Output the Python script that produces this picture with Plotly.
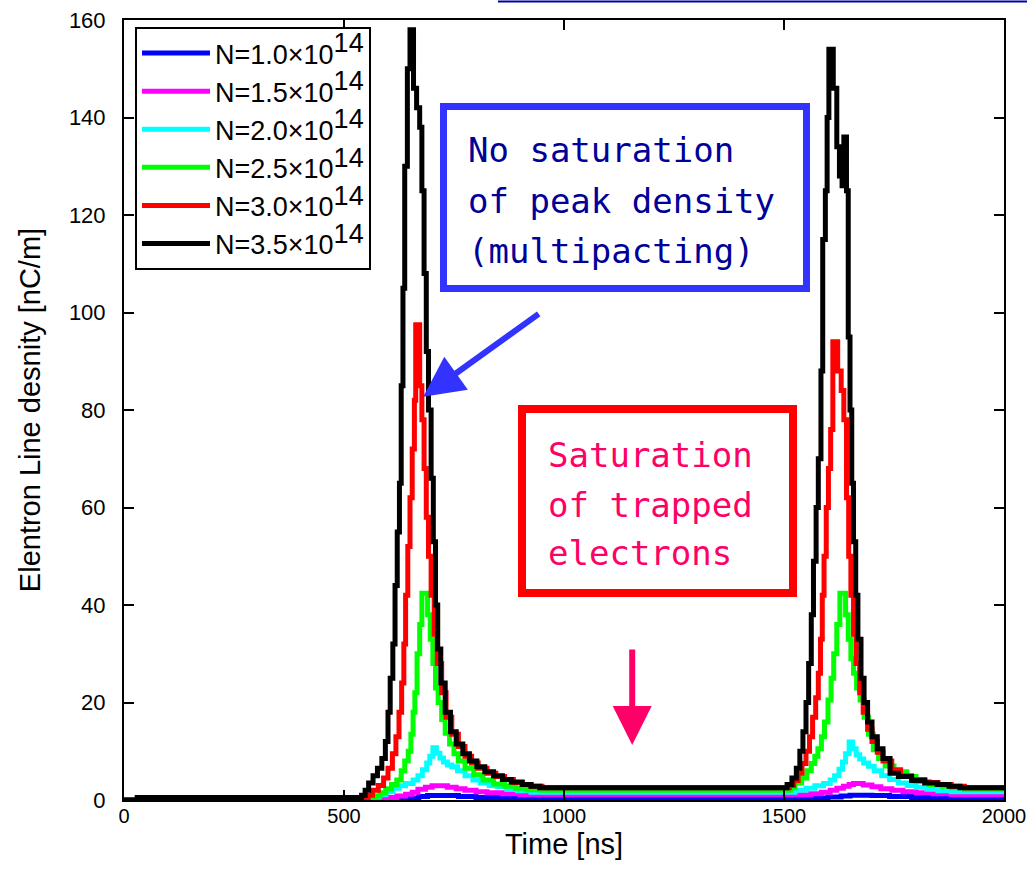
import plotly.graph_objects as go

# ---------------- data ----------------
t_n10 = [0, 600, 640, 670, 690, 760, 800, 850, 900, 1550, 1600, 1630, 1650, 1700, 1740, 1790, 1850, 1900, 2000]
v_n10 = [0, 0.2, 0.4, 0.7, 0.9, 0.7, 0.5, 0.4, 0.3, 0.4, 0.6, 0.8, 1.0, 0.9, 0.7, 0.5, 0.4, 0.3, 0.3]

t_n15 = [0, 575, 600, 620, 640, 655, 668, 685, 700, 735, 755, 775, 800, 825, 860, 900,
         1530, 1560, 1585, 1605, 1620, 1635, 1648, 1658, 1680, 1700, 1720, 1745, 1770, 1800, 1840, 1880, 2000]
v_n15 = [0, 0.2, 0.5, 0.8, 1.2, 1.6, 2.2, 2.6, 2.9, 2.6, 2.3, 2.0, 1.7, 1.5, 1.3, 1.1,
         1.1, 1.3, 1.6, 2.0, 2.4, 2.8, 3.2, 3.4, 3.1, 2.7, 2.3, 2.0, 1.7, 1.5, 1.3, 1.1, 1.1]

t_n20 = [0, 548, 565, 580, 595, 611, 625, 640, 657, 668, 678, 688, 695, 702, 710, 718, 726, 735, 745, 758, 775,
         793, 810, 830, 848, 870, 895, 925,
         1500, 1525, 1550, 1570, 1590, 1605, 1615, 1625, 1633, 1640, 1648, 1656, 1664, 1672, 1681, 1692, 1705,
         1722, 1740, 1760, 1780, 1800, 1825, 1850, 1880, 2000]
v_n20 = [0, 0.2, 0.6, 1.1, 1.7, 2.4, 2.9, 3.4, 4.1, 5.0, 6.2, 7.6, 9.0, 10.7, 9.6, 8.6, 7.8, 7.2, 6.8, 6.0, 5.0,
         4.1, 3.5, 3.0, 2.7, 2.2, 1.9, 1.6,
         1.6, 2.0, 2.4, 2.9, 3.4, 4.1, 5.0, 6.3, 7.8, 9.5, 11.9, 10.5, 9.3, 8.4, 7.6, 6.9, 6.0,
         5.0, 4.2, 3.5, 3.0, 2.6, 2.2, 1.9, 1.7, 1.6]

t_n25 = [0, 555, 570, 582, 595, 608, 620, 630, 638, 646, 652, 657, 661, 666, 672, 677, 690, 696, 702, 708, 714,
         722, 730, 740, 750, 760, 775, 795, 816, 840, 865, 890, 916, 950,
         1505, 1515, 1525, 1540, 1552, 1562, 1570, 1577, 1585, 1592, 1600, 1607, 1613, 1620, 1627, 1640, 1646,
         1652, 1658, 1665, 1673, 1682, 1692, 1703, 1715, 1730, 1750, 1779, 1800, 1830, 1860, 1880, 1910, 2000]
v_n25 = [0, 0.2, 0.8, 1.5, 2.3, 3.2, 4.1, 6.0, 8.0, 10.0, 13.5, 18.0, 22.0, 30.0, 36.0, 42.4, 38.0, 33.0, 28.0, 23.0, 20.0,
         16.5, 13.7, 11.5, 9.5, 8.0, 6.5, 5.2, 4.1, 3.3, 2.8, 2.4, 2.1, 2.0,
         2.0, 2.5, 3.5, 4.5, 6.0, 7.5, 9.0, 10.5, 13.0, 16.0, 20.5, 25.0, 30.0, 36.0, 42.4, 38.0, 33.0,
         29.0, 26.0, 23.0, 20.5, 17.0, 13.5, 10.3, 8.5, 7.0, 5.8, 4.8, 3.8, 3.2, 2.8, 2.5, 2.2, 2.0]

t_n30 = [0, 545, 555, 565, 578, 590, 600, 610, 618, 625, 631, 636, 640, 645, 650, 655, 660, 663, 672, 677, 682,
         687, 692, 698, 705, 712, 722, 732, 745, 760, 775, 790, 805, 825, 845, 865, 885, 905, 925, 950,
         1500, 1512, 1522, 1532, 1541, 1550, 1558, 1565, 1572, 1578, 1583, 1587, 1591, 1596, 1601, 1606, 1611,
         1622, 1630, 1636, 1642, 1647, 1652, 1658, 1664, 1672, 1680, 1690, 1700, 1712, 1725, 1745, 1765, 1790,
         1820, 1850, 1880, 1910, 2000]
v_n30 = [0, 0.3, 1.0, 2.0, 3.0, 4.5, 6.5, 9.5, 13.0, 18.0, 24.0, 32.0, 42.0, 52.0, 62.0, 72.0, 82.0, 97.5, 85.0, 78.0, 68.0,
         58.0, 50.0, 42.0, 34.0, 28.0, 22.0, 17.0, 13.5, 11.0, 9.0, 7.6, 6.5, 5.5, 4.8, 4.2, 3.6, 3.2, 2.8, 2.5,
         2.5, 3.0, 4.0, 5.5, 7.5, 10.0, 13.0, 17.0, 21.0, 26.0, 33.0, 42.0, 50.0, 60.0, 68.0, 76.0, 94.0,
         88.0, 84.0, 78.0, 62.0, 50.0, 42.0, 34.0, 28.0, 22.0, 18.0, 14.5, 12.0, 9.8, 8.0, 6.2, 5.0, 4.2,
         3.6, 3.2, 2.8, 2.5, 2.5]

t_n35 = [0, 30, 540, 548, 556, 566, 576, 586, 594, 600, 605, 611, 616, 621, 626, 630, 634, 638, 644, 650,
         658, 665, 672, 677, 682, 687, 692, 698, 703, 708, 713, 720, 730, 742, 755, 770, 785, 802, 820, 840,
         860, 880, 905, 925, 945,
         1495, 1507, 1518, 1528, 1536, 1543, 1550, 1556, 1562, 1567, 1573, 1578, 1584, 1588, 1594, 1598, 1602,
         1612, 1620, 1626, 1632, 1636, 1642, 1646, 1650, 1654, 1658, 1663, 1668, 1675, 1682, 1690, 1700, 1712,
         1725, 1741, 1760, 1790, 1820, 1848, 1875, 1900, 2000]
v_n35 = [0, 0.5, 1.0, 2.0, 3.5, 5.0, 6.5, 8.5, 12.0, 18.0, 25.0, 32.0, 44.0, 55.0, 65.0, 85.0, 105.0, 130.0, 150.0, 158.0,
         146.0, 142.0, 138.0, 125.0, 108.0, 92.0, 80.0, 66.0, 53.0, 40.0, 31.0, 24.0, 18.0, 14.0, 11.5, 9.5, 8.0, 6.8, 5.8, 5.0,
         4.2, 3.7, 3.2, 2.8, 2.5,
         2.5, 3.2, 4.5, 6.5, 10.0, 14.0, 20.0, 28.0, 38.0, 49.0, 60.0, 70.0, 88.0, 115.0, 125.0, 140.0, 154.0,
         146.0, 134.0, 128.0, 126.0, 136.0, 125.0, 95.0, 80.0, 65.0, 53.0, 42.0, 33.0, 25.0, 20.0, 16.0, 13.0, 10.5,
         8.5, 5.5, 4.8, 4.0, 3.5, 3.2, 2.8, 2.5, 2.5]

series_labels = ["1.0", "1.5", "2.0", "2.5", "3.0", "3.5"]
series_t = [t_n10, t_n15, t_n20, t_n25, t_n30, t_n35]
series_v = [v_n10, v_n15, v_n20, v_n25, v_n30, v_n35]
series_colors = ["#0000ff", "#ff00ff", "#00ffff", "#00ff00", "#ff0000", "#000000"]

x_ticks = [0, 500, 1000, 1500, 2000]
y_ticks = [0, 20, 40, 60, 80, 100, 120, 140, 160]

blue_lines = ["No saturation", "of peak density", "(multipacting)"]
red_lines = ["Saturation", "of trapped", "electrons"]

# ---------------- figure ----------------
W, H = 1027, 872
ML, MR, MT, MB = 124, 23, 20, 72
PW, PH = W - ML - MR, H - MT - MB


def px(x):
    return (x - ML) / PW


def py(y):
    return (H - MB - y) / PH


SANS = "Liberation Sans, Arial, sans-serif"
MONO = "DejaVu Sans Mono, Liberation Mono, monospace"

fig = go.Figure()
for i, (lab, tt, vv, col) in enumerate(zip(series_labels, series_t, series_v, series_colors)):
    fig.add_trace(go.Scatter(
        x=tt, y=vv, mode="lines",
        name=f'N={lab}×10<sup><span style="font-size:27px">14</span></sup>',
        line=dict(color=col, width=5, shape="hv"),
        legendgroup=f"g{i}",
    ))

axis_common = dict(
    showgrid=False, zeroline=False, showline=True, linecolor="black", linewidth=2,
    mirror="ticks", ticks="inside", ticklen=10, tickwidth=1.5, tickcolor="black",
    automargin=False, ticklabeloverflow="allow",
)

fig.update_layout(
    template="none",
    width=W, height=H,
    margin=dict(l=ML, r=MR, t=MT, b=MB, pad=0),
    paper_bgcolor="white", plot_bgcolor="white",
    font=dict(family=SANS, color="black"),
    showlegend=True,
    legend=dict(
        x=px(135), y=py(27), xanchor="left", yanchor="top",
        bgcolor="white", bordercolor="black", borderwidth=2,
        font=dict(family=SANS, size=27, color="black"),
        traceorder="grouped", tracegroupgap=0, itemwidth=68,
    ),
    xaxis=dict(
        range=[0, 2000], tickvals=x_ticks, ticktext=[str(v) for v in x_ticks],
        ticklabelstandoff=-3,
        tickfont=dict(family=SANS, size=20, color="black"),
        title=dict(text="Time [ns]", font=dict(family=SANS, size=29, color="black"), standoff=8),
        **axis_common,
    ),
    yaxis=dict(
        range=[0, 160], tickvals=y_ticks, ticktext=[str(v) for v in y_ticks],
        ticklabelstandoff=12,
        tickfont=dict(family=SANS, size=22, color="black"),
        title=dict(text="Elentron Line desnity [nC/m]", font=dict(family=SANS, size=29, color="black"), standoff=20),
        **axis_common,
    ),
)

# Boxes around the comments
fig.add_shape(type="rect", xref="paper", yref="paper",
              x0=px(443.5), x1=px(806.5), y0=py(106.5), y1=py(288.5),
              line=dict(color="#3333ff", width=7), fillcolor="white", layer="above")
fig.add_shape(type="rect", xref="paper", yref="paper",
              x0=px(522), x1=px(793), y0=py(409), y1=py(593),
              line=dict(color="#ff0000", width=8), fillcolor="white", layer="above")

for line, yc in zip(blue_lines, [150, 201, 251]):
    fig.add_annotation(xref="paper", yref="paper", x=px(466), y=py(yc), xanchor="left", yanchor="middle",
                       showarrow=False, text=line, font=dict(family=MONO, size=34, color="#000099"))
for line, yc in zip(red_lines, [455, 505, 553]):
    fig.add_annotation(xref="paper", yref="paper", x=px(546), y=py(yc), xanchor="left", yanchor="middle",
                       showarrow=False, text=line, font=dict(family=MONO, size=34, color="#ff0066"))

# Blue arrow
fig.add_annotation(
    x=680, y=82.7, xref="x", yref="y", text="", showarrow=True,
    ax=117, ay=-84, arrowhead=2, arrowsize=1.35, arrowwidth=6, arrowcolor="#3333ff", standoff=0,
)
# Pink arrow
fig.add_annotation(
    x=1155, y=11.3, xref="x", yref="y", text="", showarrow=True,
    ax=0, ay=-97, arrowhead=2, arrowsize=1.3, arrowwidth=6, arrowcolor="#ff0066", standoff=0,
)
# cut-off blue line at the very top of the image
fig.add_shape(type="line", xref="paper", yref="paper",
              x0=px(498), x1=px(1027), y0=py(1.5), y1=py(1.5),
              line=dict(color="#0000aa", width=2))

fig.write_html("out.html")
